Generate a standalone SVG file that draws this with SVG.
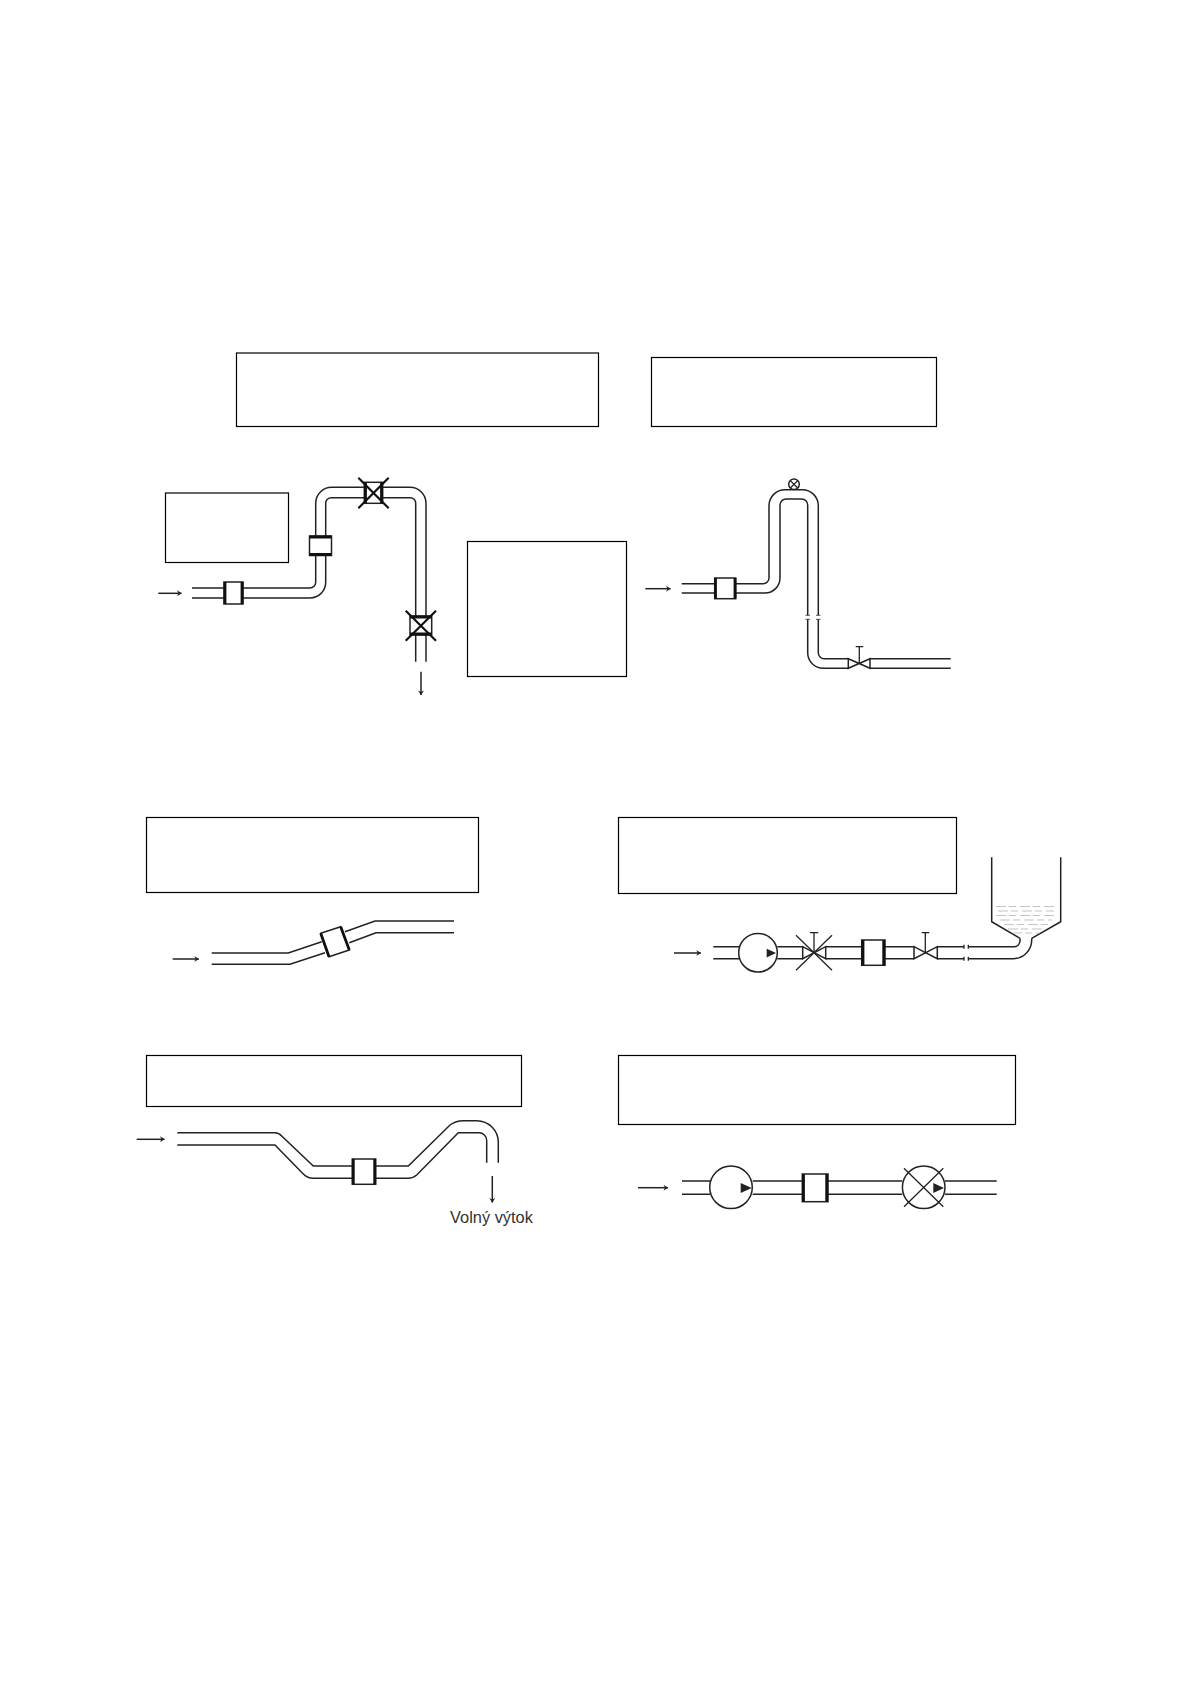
<svg xmlns="http://www.w3.org/2000/svg" width="1191" height="1684" viewBox="0 0 1191 1684">
<style>
.box{fill:#fff;stroke:#000;stroke-width:1.2}
.pipe{fill:none;stroke:#222;stroke-width:1.5}
.arrow{fill:none;stroke:#222;stroke-width:1.5;marker-end:url(#head)}
.fit{fill:#fff;stroke:#222;stroke-width:1.5}
.thick{fill:none;stroke:#111;stroke-width:2.8}
.x{fill:none;stroke:#111;stroke-width:2.2}
.thin{fill:none;stroke:#222;stroke-width:1.3}
.water{fill:none;stroke:#aaa;stroke-width:.7}
.tri{fill:#222;stroke:none}
.label{font-family:"Liberation Sans",Arial,sans-serif;font-size:16.4px;fill:#333}
</style>
<defs>
<marker id="head" markerWidth="8" markerHeight="8" refX="6" refY="4" orient="auto" markerUnits="userSpaceOnUse"><path d="M1.5 1 L6.2 4 L1.5 7 L3 4 Z" fill="#222"/></marker>
</defs>
<rect width="1191" height="1684" fill="#fff"/>

<g id="label-boxes">
<rect id="box-1" class="box" x="236.5" y="353" width="362" height="73.5"/>
<rect id="box-2" class="box" x="651.5" y="357.5" width="285" height="69"/>
<rect id="box-3" class="box" x="165.5" y="493" width="123" height="69.5"/>
<rect id="box-4" class="box" x="467.5" y="541.5" width="159" height="135"/>
<rect id="box-5" class="box" x="146.5" y="817.5" width="332" height="75"/>
<rect id="box-6" class="box" x="618.5" y="817.5" width="338" height="76"/>
<rect id="box-7" class="box" x="146.5" y="1055.5" width="375" height="51"/>
<rect id="box-8" class="box" x="618.5" y="1055.5" width="397" height="69"/>
</g>

<g id="connectors">
<path class="arrow" d="M158.3 593.3H181.5"/>
<path class="arrow" d="M421 671.7V695"/>
<path class="pipe" d="M192 588H310A5.7 5.7 0 0 0 315.7 582.3V503.3A16 16 0 0 1 331.7 487.3H410A16 16 0 0 1 426 503.3V661.7"/>
<path class="pipe" d="M192 598H310A15.7 15.7 0 0 0 325.7 582.3V503.3A5.6 5.6 0 0 1 331.3 497.7H410.1A5.6 5.6 0 0 1 415.7 503.3V661.7"/>

<path class="arrow" d="M645.3 588.7H670.5"/>
<path class="pipe" d="M681.7 583.7H763.3A5.7 5.7 0 0 0 769 578V505.7A16 16 0 0 1 785 489.7H802.3A16 16 0 0 1 818.3 505.7V615.3M818.3 619.3V652.7A6 6 0 0 0 824.3 658.7H848.3"/>
<path class="pipe" d="M681.7 593H765A15 15 0 0 0 780 578V505A6 6 0 0 1 786 499H801.7A6 6 0 0 1 807.7 505V615.3M807.7 619.3V652.7A15.6 15.6 0 0 0 823.3 668.3H848.3"/>
<path class="pipe" d="M870 658.7H950.7M870 668.3H950.7"/>
<path class="thin" d="M805.5 615.3H810M805.5 619.3H810M816 615.3H820.5M816 619.3H820.5" stroke-opacity=".6"/>

<path class="arrow" d="M172.7 959H198.8"/>
<path class="pipe" d="M211.7 953H288.3L321.7 941.7M345 931.7L375 921H454"/>
<path class="pipe" d="M211.7 964.3H290L325 952.7M349.3 942.7L376 932.7H454"/>

<path class="arrow" d="M136.7 1139.3H164.5"/>
<path class="arrow" d="M492.3 1176V1202.5"/>
<path class="pipe" d="M177.3 1132.7H275Q279 1132.7 281.7 1136L313.3 1166H352.3M375.7 1166H408.3L450 1125Q456 1120.7 463.3 1120.7H476.7A21.6 21.6 0 0 1 498.3 1142.3V1162.7"/>
<path class="pipe" d="M177.3 1145H275L303.3 1174Q307.5 1178.3 313.3 1178.3H352.3M375.7 1178.3H408.3Q413 1178.3 416.7 1175L458.3 1132.7H479A7.7 7.7 0 0 1 486.7 1140.4V1162.7"/>

<path class="arrow" d="M674 953H700.8"/>
<path class="pipe" d="M713.3 946.7H739M713.3 958.7H739M777.3 946.7H802.7M777.3 958.7H802.7M825.7 946.7H861.7M825.7 958.7H861.7M885 946.7H914M885 958.7H914M937.3 946.7H964M937.3 958.7H964"/>
<path class="pipe" d="M968.3 946.7H1014A6 6 0 0 0 1020 940.7V938.3M968.3 958.7H1013A18.7 18.7 0 0 0 1031.7 940V938.3"/>
<path class="thin" d="M964 944.7V948.7M964 956.7V960.7M968.3 944.7V948.7M968.3 956.7V960.7"/>

<path class="arrow" d="M638 1187.7H668"/>
<path class="pipe" d="M682 1181H710M682 1194.3H710M752.7 1181H802.3M752.7 1194.3H802.3M828 1181H902.3M828 1194.3H902.3M945 1181H996.7M945 1194.3H996.7"/>
</g>

<g id="meter-1"><rect class="fit" x="224" y="582" width="19" height="22"/><path class="thick" d="M225 582V604M242 582V604"/></g>
<g id="meter-2"><rect class="fit" x="309.5" y="536" width="22" height="19.5"/><path class="thick" d="M309.5 554.5H331.5M309.5 537H331.5"/></g>
<g id="blocked-meter-1"><rect class="fit" x="364.3" y="482.3" width="18.4" height="21"/><path class="thick" d="M365.5 482.3V503.3M381.5 482.3V503.3"/><path class="x" d="M358.3 477.7L388.7 508.3M388.7 477.7L358.3 508.3"/></g>
<g id="blocked-meter-2"><rect class="fit" x="410" y="616" width="21.7" height="19"/><path class="thick" d="M410 617H431.7M410 634H431.7"/><path class="x" d="M405.7 610.7L436 640.7M436 610.7L405.7 640.7"/></g>

<g id="meter-3"><rect class="fit" x="714.7" y="578" width="21" height="20.7"/><path class="thick" d="M715.5 578V598.7M735 578V598.7"/></g>
<g id="vent"><circle class="fit" cx="794" cy="484.3" r="5.3"/><path class="thin" d="M790.3 480.6L797.7 488M797.7 480.6L790.3 488"/></g>
<g id="valve-1"><path class="fit" d="M848.3 658.7V668.3L870 658.7V668.3Z"/><path class="thin" d="M859.3 663.3V646.7M855.7 646.7H863.3"/></g>

<g id="meter-4"><path class="fit" d="M320.7 933.3L340.7 926.7L349.3 950L329 956.7Z"/><path class="thick" d="M320.7 933.3L329 956.7M340.7 926.7L349.3 950"/></g>
<g id="meter-5"><rect class="fit" x="352.3" y="1159" width="23.4" height="25.3"/><path class="thick" d="M353.3 1159V1184.3M374.7 1159V1184.3"/></g>
<text class="label" x="450" y="1222.5" id="label-outflow">Volný výtok</text>

<g id="pump-1"><circle class="fit" cx="758" cy="952.7" r="19.3"/><path class="tri" d="M766.7 948.7L776 953L766.7 957.5Z"/></g>
<g id="blocked-valve"><path class="fit" d="M802.7 946.7V958.7L825.7 946.7V958.7Z"/><path class="thin" d="M814 952.7V932.7M810 932.7H818.3"/><path class="thin" d="M796 935.3L832 970.3M832 935.3L796 970.3"/></g>
<g id="meter-6"><rect class="fit" x="861.7" y="940" width="23.3" height="25.3"/><path class="thick" d="M863 940V965.3M883.7 940V965.3"/></g>
<g id="valve-2"><path class="fit" d="M914 946.7V958.7L937.3 946.7V958.7Z"/><path class="thin" d="M925.3 952.7V932.7M921.7 932.7H929.3"/></g>
<g id="tank">
<path class="pipe" d="M991.7 857.3V921.7L1020 938.3M1060.7 857.3V921.7L1031.7 938.3"/>
<path class="water" stroke-dasharray="10 3 7 4" d="M996 906.5H1056M998 911H1054M996 915.5H1056M1000 920H1052M1004 924.5H1050M1008 929H1044M1012 933H1040"/>
</g>

<g id="pump-2"><circle class="fit" cx="731" cy="1187.3" r="21.3"/><path class="tri" d="M740.7 1183L751.7 1188L740.7 1193Z"/></g>
<g id="meter-7"><rect class="fit" x="802.3" y="1174" width="25.7" height="27.7"/><path class="thick" d="M803.5 1174V1201.7M826.7 1174V1201.7"/></g>
<g id="blocked-pump"><circle class="fit" cx="923.7" cy="1187.3" r="21.3"/><path class="tri" d="M933.3 1183L944 1188L933.3 1193Z"/><path class="thin" d="M904 1168.3L943.3 1206.7M943.3 1168.3L904 1206.7"/></g>
</svg>
